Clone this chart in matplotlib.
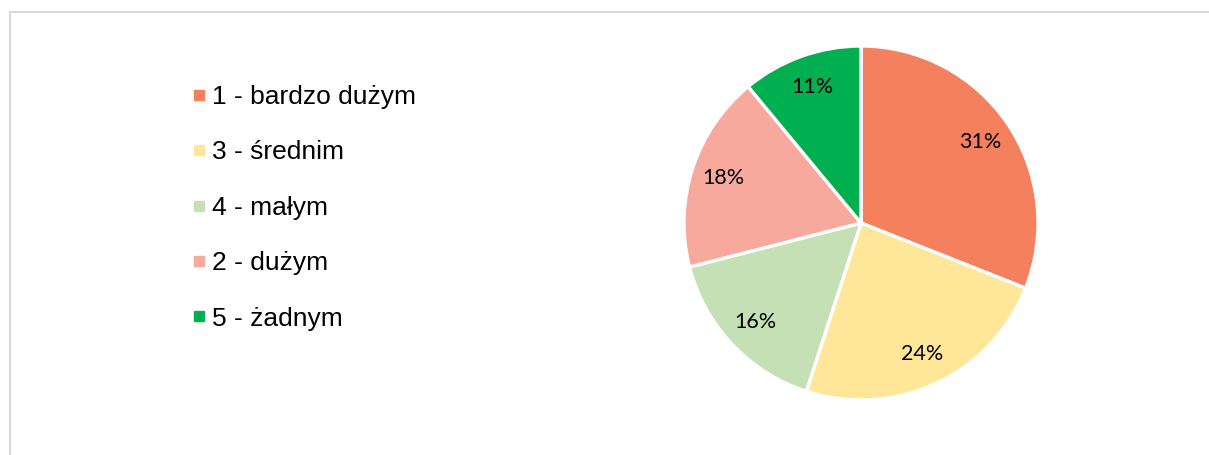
import matplotlib.pyplot as plt
from matplotlib.lines import Line2D

labels = ["1 - bardzo dużym", "3 - średnim", "4 - małym", "2 - dużym", "5 - żadnym"]
shares = [31, 24, 16, 18, 11]
colors = ["#F5805E", "#FFE699", "#C5E0B4", "#F8A99E", "#00B050"]

W, H, DPI = 1209, 455, 100
fig = plt.figure(figsize=(W / DPI, H / DPI), dpi=DPI)

# pie centred at about (861, 223) px, radius ~177 px
cx, cy, r = 861, 223, 177
ax = fig.add_axes([(cx - r) / W, (H - cy - r) / H, 2 * r / W, 2 * r / H])
wedges, _, pcts = ax.pie(
    shares, colors=colors, startangle=90, counterclock=False,
    autopct="%d%%", pctdistance=0.815,
    wedgeprops=dict(edgecolor="white", linewidth=2.4),
    textprops=dict(fontsize=15.5, family="Lato", color="black"),
)
ax.set_xlim(-1, 1)
ax.set_ylim(-1, 1)
ax.set_aspect("equal")

handles = [Line2D([], [], marker="s", linestyle="none", markersize=6.5,
                  markerfacecolor=c, markeredgecolor=c) for c in colors]
fig.legend(handles, labels, loc="upper left", bbox_to_anchor=(192 / W, 1 - 85 / H),
           frameon=False, prop=dict(family="Liberation Sans", size=19),
           labelspacing=1.19, handlelength=0.5, handletextpad=0.26,
           borderpad=0, borderaxespad=0)

# light grey chart frame (top and left edges visible)
fig.add_artist(Line2D([10 / W, 1], [1 - 12 / H, 1 - 12 / H], color="#D9D9D9", lw=1.5))
fig.add_artist(Line2D([10 / W, 10 / W], [0, 1 - 12 / H], color="#D9D9D9", lw=1.5))

fig.savefig("out.png", dpi=DPI)
